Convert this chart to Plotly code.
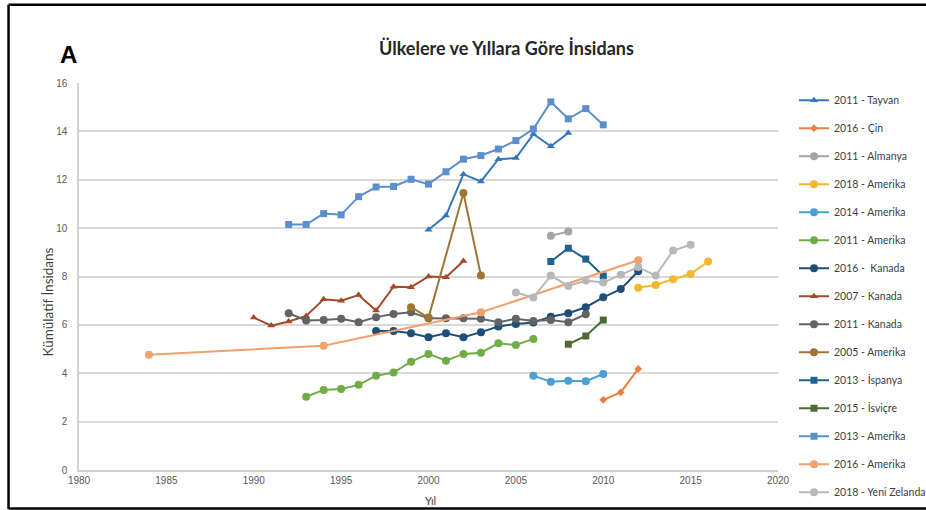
import plotly.graph_objects as go

# ---------------- data ----------------
tayvan_2011_x = [2000, 2001, 2002, 2003, 2004, 2005, 2006, 2007, 2008]
tayvan_2011_y = [9.93, 10.52, 12.23, 11.93, 12.85, 12.9, 13.89, 13.38, 13.93]

cin_2016_x = [2010, 2011, 2012]
cin_2016_y = [2.9, 3.21, 4.18]

almanya_2011_x = [2007, 2008]
almanya_2011_y = [9.68, 9.86]

amerika_2018_x = [2012, 2013, 2014, 2015, 2016]
amerika_2018_y = [7.54, 7.65, 7.89, 8.1, 8.62]

amerika_2014_x = [2006, 2007, 2008, 2009, 2010]
amerika_2014_y = [3.9, 3.65, 3.69, 3.67, 3.97]

amerika_2011_x = [1993, 1994, 1995, 1996, 1997, 1998, 1999, 2000, 2001, 2002, 2003, 2004, 2005, 2006]
amerika_2011_y = [3.03, 3.31, 3.35, 3.52, 3.9, 4.03, 4.48, 4.8, 4.52, 4.8, 4.85, 5.24, 5.17, 5.42]

kanada_2016_x = [1997, 1998, 1999, 2000, 2001, 2002, 2003, 2004, 2005, 2006, 2007, 2008, 2009, 2010, 2011, 2012]
kanada_2016_y = [5.75, 5.75, 5.65, 5.49, 5.65, 5.49, 5.7, 5.93, 6.04, 6.1, 6.34, 6.48, 6.73, 7.14, 7.48, 8.22]

kanada_2007_x = [1990, 1991, 1992, 1993, 1994, 1995, 1996, 1997, 1998, 1999, 2000, 2001, 2002]
kanada_2007_y = [6.3, 5.97, 6.14, 6.37, 7.06, 7.0, 7.23, 6.59, 7.58, 7.56, 8.0, 7.97, 8.64]

kanada_2011_x = [1992, 1993, 1994, 1995, 1996, 1997, 1998, 1999, 2000, 2001, 2002, 2003, 2004, 2005, 2006, 2007, 2008, 2009]
kanada_2011_y = [6.48, 6.18, 6.2, 6.25, 6.11, 6.32, 6.45, 6.52, 6.27, 6.27, 6.27, 6.25, 6.11, 6.25, 6.16, 6.2, 6.11, 6.44]

amerika_2005_x = [1999, 2000, 2002, 2003]
amerika_2005_y = [6.73, 6.3, 11.45, 8.04]

ispanya_2013_x = [2007, 2008, 2009, 2010]
ispanya_2013_y = [8.62, 9.17, 8.72, 8.02]

isvicre_2015_x = [2008, 2009, 2010]
isvicre_2015_y = [5.2, 5.54, 6.2]

amerika_2013_x = [1992, 1993, 1994, 1995, 1996, 1997, 1998, 1999, 2000, 2001, 2002, 2003, 2004, 2005, 2006, 2007, 2008, 2009, 2010]
amerika_2013_y = [10.15, 10.15, 10.6, 10.55, 11.3, 11.7, 11.72, 12.02, 11.82, 12.33, 12.85, 13.0, 13.27, 13.62, 14.1, 15.22, 14.52, 14.94, 14.27]

amerika_2016_x = [1984, 1994, 2003, 2012]
amerika_2016_y = [4.76, 5.14, 6.52, 8.67]

zelanda_2018_x = [2005, 2006, 2007, 2008, 2009, 2010, 2011, 2012, 2013, 2014, 2015]
zelanda_2018_y = [7.34, 7.13, 8.04, 7.61, 7.83, 7.75, 8.07, 8.39, 8.04, 9.07, 9.31]

series_names = ["2011 - Tayvan", "2016 - Çin", "2011 - Almanya", "2018 - Amerika", "2014 - Amerika",
                "2011 - Amerika", "2016 -  Kanada", "2007 - Kanada", "2011 - Kanada", "2005 - Amerika",
                "2013 - İspanya", "2015 - İsviçre", "2013 - Amerika", "2016 - Amerika", "2018 - Yeni Zelanda"]

title_text = "Ülkelere ve Yıllara Göre İnsidans"
y_title = "Kümülatif İnsidans"
x_title = "Yıl"
panel_label = "A"

x_ticks = [1980, 1985, 1990, 1995, 2000, 2005, 2010, 2015, 2020]
y_ticks = [0, 2, 4, 6, 8, 10, 12, 14, 16]

# ---------------- styles ----------------
xs = [tayvan_2011_x, cin_2016_x, almanya_2011_x, amerika_2018_x, amerika_2014_x, amerika_2011_x,
      kanada_2016_x, kanada_2007_x, kanada_2011_x, amerika_2005_x, ispanya_2013_x, isvicre_2015_x,
      amerika_2013_x, amerika_2016_x, zelanda_2018_x]
ys = [tayvan_2011_y, cin_2016_y, almanya_2011_y, amerika_2018_y, amerika_2014_y, amerika_2011_y,
      kanada_2016_y, kanada_2007_y, kanada_2011_y, amerika_2005_y, ispanya_2013_y, isvicre_2015_y,
      amerika_2013_y, amerika_2016_y, zelanda_2018_y]
colors = ["#3577B8", "#E8803F", "#A5A5A5", "#F2B630", "#4A9FD4", "#70AD47", "#1F4E79", "#A4492A",
          "#636363", "#9C7632", "#1E6493", "#4A6B32", "#5B8FCC", "#F1A06E", "#B8B8B8"]
symbols = ["triangle-up", "diamond", "circle", "circle", "circle", "circle", "circle", "triangle-up",
           "circle", "circle", "square", "square", "square", "circle", "circle"]
sizes = [7, 6, 8, 8, 8, 8, 8, 7, 8, 8, 7, 7, 7, 8, 8]

W, H = 926, 510
L, R, T, B = 78.5, 148, 83.3, 40
PW, PH = W - L - R, H - T - B


def px2x(px):
    return (px - L) / PW


def py2y(py):
    return (H - B - py) / PH


fig = go.Figure()
for i, name in enumerate(series_names):
    fig.add_trace(go.Scatter(
        x=xs[i], y=ys[i], name=name, mode="lines+markers",
        legendgroup="g%d" % i,
        line=dict(color=colors[i], width=2),
        marker=dict(color=colors[i], symbol=symbols[i], size=sizes[i]),
    ))

tick_font = dict(family="Liberation Sans, Arial, sans-serif", size=10, color="#595959")


def ann(text, px, py, font, angle=0):
    return dict(text=text, x=px2x(px), y=py2y(py), xref="paper", yref="paper",
                xanchor="center", yanchor="middle", showarrow=False, textangle=angle, font=font)


fig.update_layout(
    width=W, height=H, autosize=False,
    margin=dict(l=L, r=R, t=T, b=B, pad=0, autoexpand=False),
    paper_bgcolor="white", plot_bgcolor="white",
    showlegend=True,
    legend=dict(
        x=px2x(794), y=py2y(86), xanchor="left", yanchor="top",
        font=dict(family="Lato, sans-serif", size=10.5, color="#404040"),
        tracegroupgap=9, itemwidth=30, bgcolor="rgba(0,0,0,0)", maxheight=505,
    ),
    xaxis=dict(
        range=[1980, 2020], tickvals=x_ticks, ticktext=[str(v) for v in x_ticks],
        showgrid=False, zeroline=False, showline=True, linecolor="#D0D0D0", linewidth=1.5,
        ticks="", tickfont=tick_font,
    ),
    yaxis=dict(
        range=[0, 16], tickvals=y_ticks, ticktext=[str(v) for v in y_ticks],
        showgrid=True, gridcolor="#D9D9D9", gridwidth=1.5, zeroline=False,
        showline=True, linecolor="#D0D0D0", linewidth=1.5,
        ticks="outside", ticklen=8, tickcolor="rgba(0,0,0,0)", tickfont=tick_font,
    ),
    annotations=[
        ann("<b>" + title_text + "</b>", 506, 48, dict(family="Lato, sans-serif", size=18, color="#262626")),
        ann("<b>" + panel_label + "</b>", 68, 55, dict(family="Liberation Sans, Arial, sans-serif", size=24, color="black")),
        ann(y_title, 47, 302, dict(family="Lato, sans-serif", size=13.5, color="#404040"), angle=-90),
        ann(x_title, 430, 500, dict(family="Lato, sans-serif", size=11, color="#404040")),
    ],
    shapes=[
        dict(type="line", xref="paper", yref="paper", x0=px2x(8), x1=px2x(8), y0=py2y(5), y1=py2y(509),
             line=dict(color="black", width=2.5)),
        dict(type="line", xref="paper", yref="paper", x0=px2x(8), x1=px2x(935), y0=py2y(5), y1=py2y(5),
             line=dict(color="black", width=2.5)),
        dict(type="line", xref="paper", yref="paper", x0=px2x(8), x1=px2x(935), y0=py2y(508.5), y1=py2y(508.5),
             line=dict(color="black", width=2.5)),
    ],
)

fig.write_html("out.html")
